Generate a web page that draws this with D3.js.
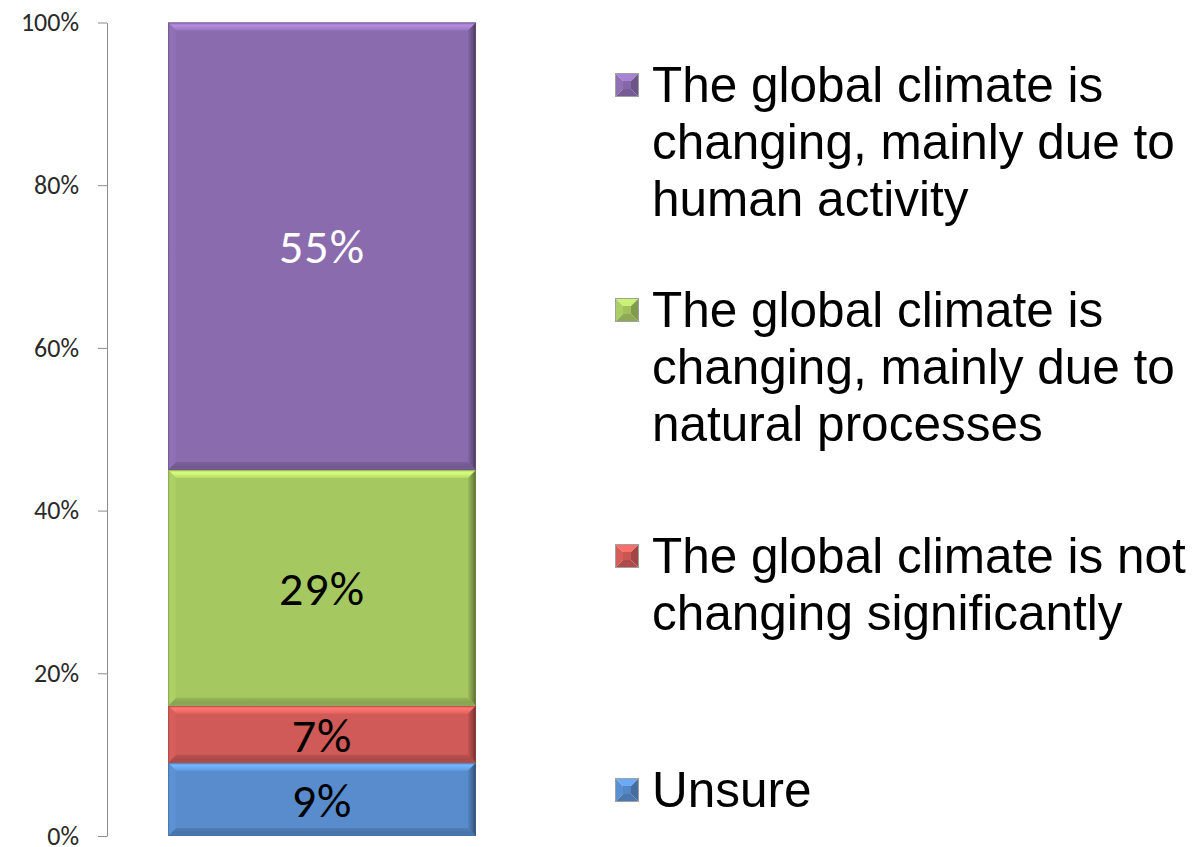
<!DOCTYPE html>
<html>
<head>
<meta charset="utf-8">
<script src="https://cdn.jsdelivr.net/npm/d3@7"></script>
<style>
  html, body { margin: 0; padding: 0; background: #fff; }
  svg { display: block; }
</style>
</head>
<body>
<svg id="chart" width="1194" height="847"></svg>
<script>
// Survey answers, stacked bottom to top
const categories = ["Unsure", "Not changing", "Natural processes", "Human activity"];
const values = [9, 7, 29, 55];
const colors = ["#588ccc", "#cf5a57", "#a6c861", "#8a6cae"];
const labelColors = ["#000", "#000", "#000", "#fff"];
const tickValues = [0, 20, 40, 60, 80, 100];

// Legend entries, listed top to bottom
const legendOrder = [3, 2, 1, 0];
const legendLines = [
  ["The global climate is", "changing, mainly due to", "human activity"],
  ["The global climate is", "changing, mainly due to", "natural processes"],
  ["The global climate is not", "changing significantly"],
  ["Unsure"]
];

const svg = d3.select("#chart");
const defs = svg.append("defs");

const y = d3.scaleLinear().domain([0, 100]).range([836, 22.5]);
const x = d3.scaleBand().domain(["all"]).range([168, 476]).padding(0);

// Axis
const axis = d3.axisLeft(y)
  .tickValues(tickValues)
  .tickFormat(d => d + "%")
  .tickSize(9)
  .tickSizeOuter(0)
  .tickPadding(19);

const gAxis = svg.append("g")
  .attr("transform", "translate(107,0)")
  .call(axis);
gAxis.select(".domain").attr("stroke", "#8c8c8c").attr("stroke-width", 1);
gAxis.selectAll(".tick line").attr("stroke", "#8c8c8c");
gAxis.selectAll(".tick text")
  .attr("fill", "#2a2a2a")
  .style("font-family", "Carlito, Lato, 'Open Sans', sans-serif")
  .style("font-size", "26px");

// Stack the segments
let acc = 0;
const segments = values.map((v, i) => {
  const s = { i, v, y0: acc, y1: acc + v };
  acc += v;
  return s;
});

function gradient(id, x1, y1, x2, y2, stops) {
  const g = defs.append("linearGradient")
    .attr("id", id)
    .attr("x1", x1).attr("y1", y1).attr("x2", x2).attr("y2", y2);
  stops.forEach(([o, c]) => g.append("stop").attr("offset", o).attr("stop-color", c));
}

segments.forEach(s => {
  const base = d3.color(colors[s.i]);
  const c = k => (k >= 0 ? base.brighter(k) : base.darker(-k)).formatHex();
  gradient("top" + s.i, 0, 0, 0, 1, [[0, c(0.15)], [0.35, c(0.75)], [1, c(0.25)]]);
  gradient("bot" + s.i, 0, 0, 0, 1, [[0, c(-0.3)], [0.6, c(-0.55)], [1, c(-0.35)]]);
  gradient("lft" + s.i, 0, 0, 1, 0, [[0, c(-0.1)], [0.4, c(0.15)], [1, c(0.05)]]);
  gradient("rgt" + s.i, 0, 0, 1, 0, [[0, c(-0.15)], [0.6, c(-0.9)], [1, c(-1.8)]]);
});

const gBars = svg.append("g");
const x0 = x("all"), x1 = x("all") + x.bandwidth();

segments.forEach(s => {
  const yt = y(s.y1), yb = y(s.y0);
  const b = Math.min(8, (yb - yt) / 2);
  const g = gBars.append("g");
  g.append("rect")
    .attr("x", x0).attr("y", yt)
    .attr("width", x1 - x0).attr("height", yb - yt)
    .attr("fill", colors[s.i]);
  const poly = (pts, fill) => g.append("polygon")
    .attr("points", pts.map(p => p.join(",")).join(" "))
    .attr("fill", fill);
  poly([[x0, yt], [x1, yt], [x1 - b, yt + b], [x0 + b, yt + b]], `url(#top${s.i})`);
  poly([[x0, yb], [x1, yb], [x1 - b, yb - b], [x0 + b, yb - b]], `url(#bot${s.i})`);
  poly([[x0, yt], [x0 + b, yt + b], [x0 + b, yb - b], [x0, yb]], `url(#lft${s.i})`);
  poly([[x1, yt], [x1 - b, yt + b], [x1 - b, yb - b], [x1, yb]], `url(#rgt${s.i})`);
  g.append("rect")
    .attr("x", x0 + 0.5).attr("y", yt + 0.5)
    .attr("width", x1 - x0 - 1).attr("height", yb - yt - 1)
    .attr("fill", "none")
    .attr("stroke", d3.color(colors[s.i]).darker(0.8))
    .attr("stroke-opacity", 0.5);

  // Value label
  svg.append("text")
    .attr("x", (x0 + x1) / 2)
    .attr("y", (yt + yb) / 2)
    .attr("dy", "0.36em")
    .attr("text-anchor", "middle")
    .attr("fill", labelColors[s.i])
    .style("font-family", "Carlito, Lato, 'Open Sans', sans-serif")
    .style("font-size", "48px")
    .style("letter-spacing", "1px")
    .text(s.v + "%");
});

// Legend
const legendBaselines = [102, 327, 573, 807];
const lineGap = 57;
const gLegend = svg.append("g");

legendOrder.forEach((idx, k) => {
  const base = d3.color(colors[idx]);
  const c = kk => (kk >= 0 ? base.brighter(kk) : base.darker(-kk)).formatHex();
  const cy = legendBaselines[k] - 17;
  const s = 24, mx = 615, my = cy - s / 2, inset = 8;
  const g = gLegend.append("g");
  const tri = (pts, fill) => g.append("polygon")
    .attr("points", pts.map(p => p.join(",")).join(" "))
    .attr("fill", fill);
  const cx0 = mx + inset, cx1 = mx + s - inset, cy0 = my + inset, cy1 = my + s - inset;
  tri([[mx, my], [mx + s, my], [cx1, cy0], [cx0, cy0]], c(0.55));
  tri([[mx, my], [cx0, cy0], [cx0, cy1], [mx, my + s]], c(0.1));
  tri([[mx + s, my], [mx + s, my + s], [cx1, cy1], [cx1, cy0]], c(-0.7));
  tri([[mx, my + s], [mx + s, my + s], [cx1, cy1], [cx0, cy1]], c(-0.45));
  g.append("rect").attr("x", cx0).attr("y", cy0)
    .attr("width", cx1 - cx0).attr("height", cy1 - cy0).attr("fill", c(-0.1));
  g.append("rect").attr("x", mx + 0.5).attr("y", my + 0.5)
    .attr("width", s - 1).attr("height", s - 1)
    .attr("fill", "none").attr("stroke", "#a0a0a0").attr("stroke-width", 1);

  const t = gLegend.append("text")
    .attr("x", 652)
    .attr("y", legendBaselines[k])
    .attr("fill", "#000")
    .style("font-family", "'Liberation Sans', Arial, sans-serif")
    .style("font-size", "49.5px");
  legendLines[k].forEach((line, j) => {
    t.append("tspan").attr("x", 652).attr("dy", j === 0 ? 0 : lineGap).text(line);
  });
});
</script>
</body>
</html>
